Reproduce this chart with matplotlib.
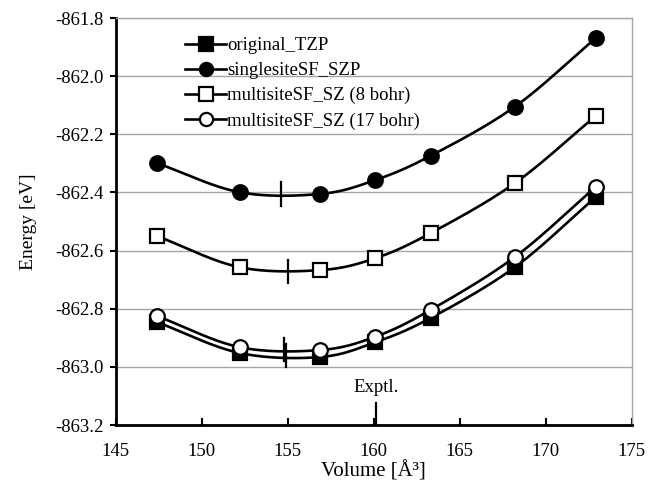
import numpy as np
import matplotlib
matplotlib.use('Agg')
import matplotlib.pyplot as plt

plt.rcParams['font.family'] = ['Liberation Serif', 'DejaVu Serif']

# данные
volume = [147.4, 152.2, 156.9, 160.1, 163.3, 168.2, 172.9]
e_original = [-862.846, -862.952, -862.966, -862.915, -862.832, -862.657, -862.416]
e_single = [-862.299, -862.399, -862.405, -862.357, -862.274, -862.105, -861.869]
e_multi8 = [-862.550, -862.657, -862.667, -862.626, -862.540, -862.368, -862.137]
e_multi17 = [-862.825, -862.932, -862.942, -862.896, -862.804, -862.622, -862.381]

# минимумы (V0, E0) для каждой кривой
v_min = [154.9, 154.6, 155.0, 154.8]
e_min = [-862.962, -862.405, -862.672, -862.940]

v_exptl = 160.15

labels = ['original_TZP', 'singlesiteSF_SZP', 'multisiteSF_SZ (8 bohr)', 'multisiteSF_SZ (17 bohr)']


def smooth(x, y, n=30):
    # сглаживание как в Excel (Catmull-Rom)
    x = np.asarray(x, float)
    y = np.asarray(y, float)
    px = np.concatenate([[2 * x[0] - x[1]], x, [2 * x[-1] - x[-2]]])
    py = np.concatenate([[2 * y[0] - y[1]], y, [2 * y[-1] - y[-2]]])
    xs, ys = [], []
    t = np.linspace(0, 1, n)
    for i in range(1, len(px) - 2):
        for p, out in ((px, xs), (py, ys)):
            p0, p1, p2, p3 = p[i - 1], p[i], p[i + 1], p[i + 2]
            out.extend(0.5 * (2 * p1 + (-p0 + p2) * t
                              + (2 * p0 - 5 * p1 + 4 * p2 - p3) * t ** 2
                              + (-p0 + 3 * p1 - 3 * p2 + p3) * t ** 3))
    return xs, ys


fig = plt.figure(figsize=(6.5, 4.88), dpi=100)
ax = fig.add_axes([0.178, 0.129, 0.794, 0.834])

styles = [('s', 'black'), ('o', 'black'), ('s', 'white'), ('o', 'white')]
series = [e_original, e_single, e_multi8, e_multi17]

for e, (m, fc), lab in zip(series, styles, labels):
    sx, sy = smooth(volume, e)
    ax.plot(sx, sy, color='black', lw=1.9, zorder=3)
    ax.plot(volume, e, ls='none', marker=m, ms=10 if m == 's' else 10.5,
            mfc=fc, mec='black', mew=1.6, zorder=4)
    # для легенды
    ax.plot([], [], color='black', lw=1.9, marker=m, ms=9.5, mfc=fc,
            mec='black', mew=1.6, label=lab)

for v, e in zip(v_min, e_min):
    ax.plot([v, v], [e - 0.04, e + 0.04], color='black', lw=1.6, zorder=5)

ax.plot([v_exptl, v_exptl], [-863.2, -863.125], color='black', lw=1.6, zorder=5)
ax.text(v_exptl, -863.1, 'Exptl.', ha='center', va='bottom', fontsize=13.5)

ax.set_xlim(145, 175)
ax.set_ylim(-863.2, -861.8)
ax.set_xticks(np.arange(145, 176, 5))
ax.set_yticks(np.arange(-863.2, -861.79, 0.2))
ax.set_yticklabels(['%.1f' % v for v in np.arange(-863.2, -861.79, 0.2)])
ax.yaxis.grid(True, color='#a6a6a6', lw=1)
ax.set_axisbelow(True)

for s in ['top', 'right']:
    ax.spines[s].set_color('#a6a6a6')
    ax.spines[s].set_linewidth(1)
for s in ['left', 'bottom']:
    ax.spines[s].set_linewidth(2)
ax.tick_params(axis='x', direction='in', length=5, width=1.5, labelsize=13.5, pad=13)
ax.tick_params(axis='y', direction='out', length=4, width=1.5, labelsize=13.5, pad=5)

ax.set_xlabel('Volume [Å³]', fontsize=15, labelpad=1)
ax.set_ylabel('Energy [eV]', fontsize=14, labelpad=13)

ax.legend(loc='upper left', bbox_to_anchor=(0.105, 0.99), frameon=False,
          fontsize=13.5, handlelength=2.2, handletextpad=0.05,
          labelspacing=0.42, borderpad=0.3)

plt.savefig('out.png', dpi=100)
